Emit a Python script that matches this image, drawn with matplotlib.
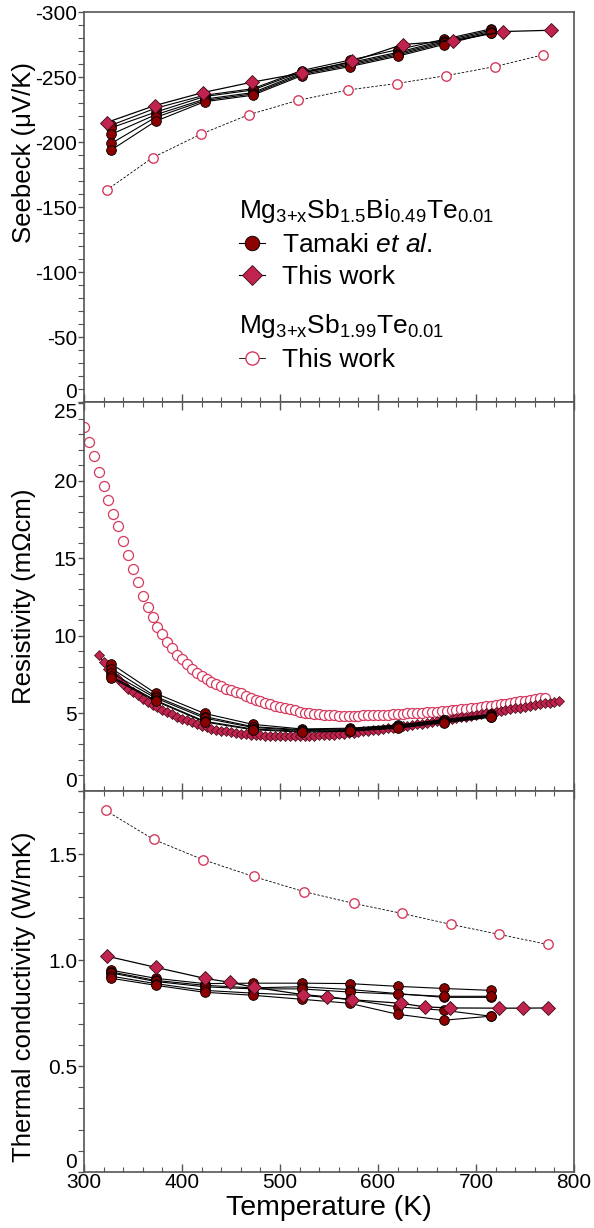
import matplotlib
matplotlib.use("Agg")
import matplotlib.pyplot as plt
from matplotlib.ticker import MultipleLocator, FuncFormatter
from matplotlib.lines import Line2D

plt.rcParams['font.family'] = ['Liberation Sans', 'DejaVu Sans']
plt.rcParams['mathtext.fontset'] = 'custom'
plt.rcParams['mathtext.rm'] = 'Liberation Sans'
plt.rcParams['mathtext.it'] = 'Liberation Sans:italic'
plt.rcParams['mathtext.default'] = 'regular'
plt.rcParams['axes.unicode_minus'] = False

# ---- Tamaki et al. (Mg3+xSb1.5Bi0.49Te0.01), several samples ----
tamaki_T = [328, 373, 423, 472, 522, 571, 620, 667, 715]
tamaki_seebeck = [
    [-213, -226, -236, -241, -255, -263, -271, -279, -287],
    [-211, -223, -235, -240, -254, -261, -269, -278, -286],
    [-206, -221, -233, -238, -253, -260, -268, -277, -285],
    [-199, -219, -232, -237, -252, -259, -267, -276, -284],
    [-194, -216, -231, -236, -251, -258, -266, -275, -284],
]
tamaki_rho = [
    [8.2, 6.3, 5.0, 4.3, 4.0, 4.05, 4.25, 4.6, 4.95],
    [7.9, 6.1, 4.8, 4.15, 3.95, 4.0, 4.2, 4.55, 4.9],
    [7.6, 6.0, 4.7, 4.1, 3.9, 3.95, 4.15, 4.5, 4.85],
    [7.4, 5.85, 4.5, 4.0, 3.85, 3.9, 4.1, 4.45, 4.8],
    [7.3, 5.8, 4.45, 3.95, 3.8, 3.85, 4.05, 4.4, 4.75],
]
tamaki_kappa = [
    [0.953, 0.915, 0.890, 0.892, 0.892, 0.890, 0.877, 0.867, 0.858],
    [0.945, 0.905, 0.882, 0.870, 0.875, 0.862, 0.843, 0.825, 0.825],
    [0.940, 0.900, 0.875, 0.865, 0.865, 0.850, 0.840, 0.830, 0.830],
    [0.925, 0.890, 0.858, 0.845, 0.835, 0.815, 0.780, 0.764, 0.736],
    [0.915, 0.882, 0.849, 0.835, 0.816, 0.797, 0.745, 0.717, 0.736],
]

# ---- This work, Mg3+xSb1.5Bi0.49Te0.01 ----
bi_seebeck_T = [323, 372, 421, 471, 522, 573, 625, 677, 728, 777]
bi_seebeck = [-215, -228, -238, -246, -253, -262, -275, -278, -285, -286]

bi_rho_T = list(range(315, 786, 5))
bi_rho = [8.8, 8.3, 7.9, 7.5, 7.2, 6.9, 6.6, 6.4, 6.2, 5.95,
          5.75, 5.55, 5.4, 5.25, 5.1, 4.95, 4.8, 4.65, 4.55, 4.45,
          4.3, 4.2, 4.1, 4.0, 3.95, 3.9, 3.85, 3.8, 3.75, 3.7,
          3.65, 3.62, 3.6, 3.58, 3.56, 3.55, 3.54, 3.53, 3.52, 3.52,
          3.52, 3.53, 3.54, 3.55, 3.56, 3.58, 3.6, 3.62, 3.64, 3.67,
          3.7, 3.73, 3.77, 3.8, 3.84, 3.88, 3.92, 3.96, 4.0, 4.04,
          4.08, 4.12, 4.17, 4.21, 4.26, 4.3, 4.35, 4.4, 4.45, 4.5,
          4.55, 4.6, 4.65, 4.7, 4.75, 4.8, 4.85, 4.9, 4.95, 5.0,
          5.05, 5.1, 5.15, 5.2, 5.26, 5.32, 5.38, 5.44, 5.5, 5.55,
          5.6, 5.65, 5.7, 5.75, 5.8]

bi_kappa_T = [323, 373, 423, 449, 473, 523, 548, 573, 623, 648, 673, 723, 748, 773]
bi_kappa = [1.02, 0.967, 0.915, 0.896, 0.873, 0.838, 0.828, 0.814, 0.797, 0.780,
            0.775, 0.774, 0.774, 0.775]

# ---- This work, Mg3+xSb1.99Te0.01 ----
sb_seebeck_T = [323, 370, 419, 468, 518, 569, 619, 669, 719, 768]
sb_seebeck = [-163, -188, -206, -221, -232, -240, -245, -251, -258, -267]

sb_rho_T = list(range(300, 771, 5))
sb_rho = [23.5, 22.5, 21.6, 20.6, 19.7, 18.8, 17.9, 17.1, 16.1, 15.2,
          14.3, 13.5, 12.6, 11.9, 11.2, 10.6, 10.1, 9.6, 9.2, 8.8,
          8.5, 8.2, 7.9, 7.6, 7.4, 7.2, 7.05, 6.9, 6.75, 6.6,
          6.5, 6.4, 6.3, 6.15, 6.0, 5.9, 5.8, 5.7, 5.6, 5.5,
          5.42, 5.35, 5.28, 5.2, 5.12, 5.06, 5.0, 4.97, 4.94, 4.91,
          4.89, 4.87, 4.86, 4.85, 4.85, 4.85, 4.86, 4.87, 4.88, 4.9,
          4.91, 4.92, 4.93, 4.95, 4.96, 4.98, 5.0, 5.02, 5.04, 5.06,
          5.08, 5.1, 5.12, 5.14, 5.17, 5.2, 5.23, 5.26, 5.3, 5.33,
          5.37, 5.41, 5.45, 5.5, 5.54, 5.59, 5.63, 5.68, 5.73, 5.78,
          5.83, 5.87, 5.92, 5.97, 6.0]

sb_kappa_T = [322, 371, 421, 473, 524, 575, 624, 674, 723, 773]
sb_kappa = [1.708, 1.571, 1.476, 1.396, 1.325, 1.269, 1.222, 1.170, 1.123, 1.075]

TAMAKI_FC = '#8B0000'
BI_FC = '#C0234E'
BI_EC = '#3a0a15'
SB_EC = '#D63A5E'
SPINE = '#555555'

fig = plt.figure(figsize=(5.94, 12.28), dpi=100)
ax1 = fig.add_axes([0.1414, 0.6726, 0.825, 0.3176])
ax2 = fig.add_axes([0.1414, 0.3559, 0.825, 0.3168])
ax3 = fig.add_axes([0.1414, 0.0456, 0.825, 0.3103])

tam_kw = dict(color='black', lw=0.8, marker='o', ms=7, mfc=TAMAKI_FC, mec='black', mew=0.6)
bi_kw = dict(color='black', lw=0.9, marker='D', ms=7.6, mfc=BI_FC, mec=BI_EC, mew=0.6)
sb_kw = dict(color='black', lw=0.6, ls=(0, (3, 2)), marker='o', ms=6.8, mfc='white', mec=SB_EC, mew=1.0)

# Seebeck
ax1.plot(sb_seebeck_T, sb_seebeck, zorder=2, **sb_kw)
for s in tamaki_seebeck:
    ax1.plot(tamaki_T, s, zorder=3, **tam_kw)
ax1.plot(bi_seebeck_T, bi_seebeck, zorder=4, **bi_kw)
ax1.set_ylim(0, -300)
ax1.yaxis.set_major_locator(MultipleLocator(50))
ax1.yaxis.set_minor_locator(MultipleLocator(10))
ax1.set_ylabel('Seebeck (μV/K)')

# Resistivity
ax2.plot(sb_rho_T, sb_rho, ls='none', marker='o', ms=7.2, mfc='white', mec=SB_EC, mew=0.9, zorder=2)
ax2.plot(bi_rho_T, bi_rho, color='black', lw=0.8, marker='D', ms=5, mfc=BI_FC, mec=BI_EC,
         mew=0.5, zorder=3)
for r in tamaki_rho:
    ax2.plot(tamaki_T, r, zorder=4, **tam_kw)
ax2.set_ylim(0, 25.1)
ax2.yaxis.set_major_locator(MultipleLocator(5))
ax2.yaxis.set_minor_locator(MultipleLocator(1))
ax2.set_ylabel('Resistivity (mΩcm)')

# Thermal conductivity
ax3.plot(sb_kappa_T, sb_kappa, zorder=2, **sb_kw)
for k in tamaki_kappa:
    ax3.plot(tamaki_T, k, zorder=3, **tam_kw)
ax3.plot(bi_kappa_T, bi_kappa, zorder=4, **bi_kw)
ax3.set_ylim(0, 1.8)
ax3.yaxis.set_major_locator(MultipleLocator(0.5))
ax3.yaxis.set_minor_locator(MultipleLocator(0.1))
ax3.yaxis.set_major_formatter(FuncFormatter(lambda v, p: '0' if v == 0 else f'{v:.1f}'))
ax3.set_ylabel('Thermal conductivity (W/mK)')
ax3.set_xlabel('Temperature (K)', fontsize=20.5, labelpad=2)

for i, ax in enumerate((ax1, ax2, ax3)):
    ax.set_xlim(300, 800)
    ax.xaxis.set_major_locator(MultipleLocator(100))
    ax.xaxis.set_minor_locator(MultipleLocator(20))
    for sp in ax.spines.values():
        sp.set_color(SPINE)
        sp.set_linewidth(1.2)
    ax.tick_params(axis='y', which='both', direction='out', left=True, right=False,
                   colors=SPINE, labelcolor='black', labelsize=15, pad=1)
    ax.tick_params(axis='y', which='major', length=4, width=1)
    ax.tick_params(axis='y', which='minor', length=4, width=0.8)
    ax.tick_params(axis='x', which='both', direction='in', bottom=True, top=(i > 0),
                   colors=SPINE, labelcolor='black', labelsize=15, pad=1)
    ax.tick_params(axis='x', which='major', length=6, width=1)
    ax.tick_params(axis='x', which='minor', length=3.5, width=0.8)
    ax.yaxis.label.set_size(18.5)
    ax.yaxis.set_label_coords(-0.098, 0.5)
    if i < 2:
        ax.tick_params(axis='x', labelbottom=False)

ax1.yaxis.set_label_coords(-0.098, 0.64)
ax3.yaxis.set_label_coords(-0.098, 0.46)

# keep the stacked zero / top labels apart, as in the figure
fig.canvas.draw()
for ax, shifts in ((ax1, {'0': 'bottom'}), (ax2, {'25': 'top', '0': 'bottom'}), (ax3, {'0': 'bottom'})):
    for tick in ax.yaxis.get_major_ticks():
        txt = tick.label1.get_text()
        if txt in shifts:
            tick.label1.set_va(shifts[txt])

# legends
h_tam = Line2D([], [], color='black', lw=0.8, marker='o', ms=10.5, mfc=TAMAKI_FC, mec='black', mew=0.6)
h_bi = Line2D([], [], color='black', lw=0.8, marker='D', ms=10.5, mfc=BI_FC, mec=BI_EC, mew=0.6)
h_sb = Line2D([], [], color='black', lw=0.6, marker='o', ms=9.5, mfc='white', mec=SB_EC, mew=1.0)
leg_kw = dict(loc='upper left', frameon=False, fontsize=19, title_fontsize=19, alignment='left',
              handlelength=1.0, handletextpad=0.65, borderpad=0, borderaxespad=0, labelspacing=0.3)
leg1 = ax1.legend([h_tam, h_bi], ['Tamaki $\\it{et\\ al.}$', 'This work'],
                  title='Mg$_{3{+}x}$Sb$_{1.5}$Bi$_{0.49}$Te$_{0.01}$',
                  bbox_to_anchor=(0.316, 0.525), **leg_kw)
ax1.add_artist(leg1)
ax1.legend([h_sb], ['This work'], title='Mg$_{3{+}x}$Sb$_{1.99}$Te$_{0.01}$',
           bbox_to_anchor=(0.316, 0.23), **leg_kw)

fig.savefig('out.png', dpi=100)
